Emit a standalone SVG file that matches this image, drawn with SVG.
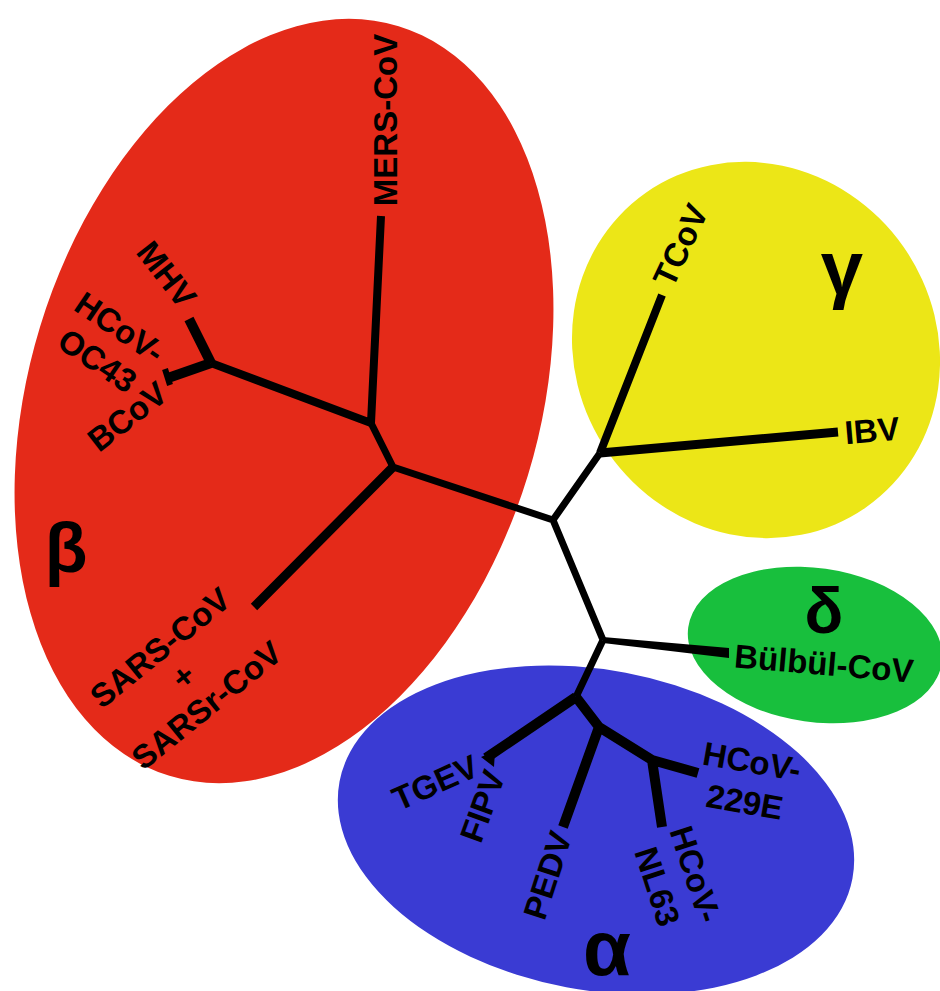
<svg xmlns="http://www.w3.org/2000/svg" width="940" height="991" viewBox="0 0 940 991">
<style>
.lbl{font-family:"Liberation Sans",Arial,sans-serif;font-weight:bold;font-size:33px;fill:#000;text-anchor:middle}
.greek{font-family:"Liberation Sans",Arial,sans-serif;font-weight:bold;fill:#000;text-anchor:middle}
.br{fill:none;stroke:#000;stroke-linecap:butt;stroke-linejoin:round}
</style>
<rect width="940" height="991" fill="#fff"/>
<g id="clade-beta">
<ellipse cx="284" cy="401" rx="255" ry="392" transform="rotate(17 284 401)" fill="#e42a19"/>
<text class="greek" x="66" y="572" font-size="70">β</text>
</g>
<g id="clade-gamma">
<ellipse cx="756" cy="350" rx="180" ry="192" transform="rotate(-35 756 350)" fill="#ece617"/>
<text class="greek" x="842" y="294" font-size="76">γ</text>
</g>
<g id="clade-delta">
<ellipse cx="815" cy="645" rx="128" ry="77" transform="rotate(8 815 645)" fill="#18bf3d"/>
<text class="greek" x="824" y="633" font-size="64">δ</text>
</g>
<g id="clade-alpha">
<ellipse cx="596" cy="830" rx="261" ry="160" transform="rotate(10.7 596 830)" fill="#3a3bd3"/>
<text class="greek" x="607" y="975" font-size="78">α</text>
</g>
<g id="connectors">
<path class="br" stroke-width="7" d="M553 520 L393 467 M553 520 L600 453 M553 520 L603 640 M393 467 L371 423 M603 640 L576 697"/>
<path class="br" stroke-width="8" d="M371 423 L381 216 M371 423 L211 363 M600 453 L662 295"/>
<path class="br" stroke-width="10" d="M211 363 L189 319 M211 363 L168 378"/>
<path class="br" stroke-width="9" d="M393 467 L254 607 M600 453 L838 432"/>
<polygon points="603,637 603,643 729,658 729,648" fill="#000"/>
<path class="br" stroke-width="10" d="M576 697 L486 758 M576 697 L599 727 L652 760 M599 727 L563 827 M652 760 L698 773 M652 760 L662 827"/>
<path class="br" stroke-width="6" d="M165 369 L170 385"/>
<polygon points="481,757 495,751 494,767" fill="#000"/>
</g>
<g id="node-mers"><text class="lbl" transform="translate(385,120) rotate(-90)" y="12">MERS-CoV</text></g>
<g id="node-mhv"><text class="lbl" transform="translate(167,274) rotate(52)" y="12">MHV</text></g>
<g id="node-oc43"><text class="lbl" transform="translate(120,327) rotate(34)"><tspan x="0" y="12">HCoV-</tspan><tspan x="0" y="52">OC43</tspan></text></g>
<g id="node-bcov"><text class="lbl" transform="translate(127,416) rotate(-38)" y="12">BCoV</text></g>
<g id="node-sars"><text class="lbl" transform="translate(183,676) rotate(-39)"><tspan x="0" y="-25">SARS-CoV</tspan><tspan x="0" y="12">+</tspan><tspan x="0" y="49">SARSr-CoV</tspan></text></g>
<g id="node-tcov"><text class="lbl" transform="translate(680,245) rotate(-65)" y="12">TCoV</text></g>
<g id="node-ibv"><text class="lbl" transform="translate(872,430) rotate(-5)" y="12">IBV</text></g>
<g id="node-bulbul"><text class="lbl" transform="translate(824,663) rotate(5)" y="12" font-size="32">Bülbül-CoV</text></g>
<g id="node-tgev"><text class="lbl" transform="translate(435,782) rotate(-24)" y="12">TGEV</text></g>
<g id="node-fipv"><text class="lbl" transform="translate(482,806) rotate(-70)" y="12">FIPV</text></g>
<g id="node-pedv"><text class="lbl" transform="translate(547,875) rotate(-72)" y="12">PEDV</text></g>
<g id="node-nl63"><text class="lbl" transform="translate(696,874) rotate(72)"><tspan x="0" y="12">HCoV-</tspan><tspan x="0" y="52">NL63</tspan></text></g>
<g id="node-229e"><text class="lbl" transform="translate(752,761) rotate(10)"><tspan x="0" y="12">HCoV-</tspan><tspan x="0" y="53">229E</tspan></text></g>
</svg>
